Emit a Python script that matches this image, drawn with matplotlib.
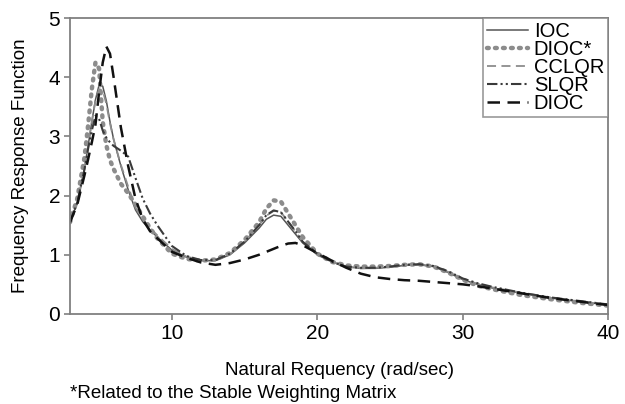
import matplotlib
matplotlib.use("Agg")
import matplotlib.pyplot as plt

plt.rcParams['font.family'] = ['Liberation Sans', 'DejaVu Sans']

x = [3, 3.5, 4, 4.25, 4.5, 4.75, 5, 5.25, 5.5, 5.75, 6, 6.5, 7, 7.5, 8, 8.5, 9, 10, 11, 12, 13,
     14, 15, 16, 16.5, 17, 17.5, 18, 18.5, 19, 20, 21, 22, 23, 24, 25, 26, 27, 28, 29, 30,
     31, 32, 34, 36, 38, 40]

ioc = [1.55, 1.88, 2.45, 2.85, 3.25, 3.62, 3.87, 3.85, 3.6, 3.25, 2.95, 2.5, 2.1, 1.76, 1.56, 1.42, 1.3,
       1.08, 0.96, 0.9, 0.9, 1.0, 1.2, 1.45, 1.6, 1.67, 1.65, 1.5, 1.35, 1.2, 1.0, 0.88, 0.8, 0.77,
       0.77, 0.79, 0.82, 0.83, 0.8, 0.7, 0.58, 0.5, 0.44, 0.35, 0.27, 0.21, 0.15]

dioc_star = [1.55, 1.95, 2.65, 3.2, 3.8, 4.25, 4.15, 3.25, 2.85, 2.6, 2.45, 2.2, 2.04, 1.85, 1.65, 1.45,
             1.28, 1.02, 0.93, 0.9, 0.92, 1.03, 1.25, 1.55, 1.78, 1.92, 1.9, 1.7, 1.5, 1.3, 1.02, 0.88,
             0.82, 0.8, 0.8, 0.81, 0.83, 0.84, 0.8, 0.7, 0.58, 0.48, 0.42, 0.32, 0.25, 0.19, 0.14]

cclqr = [1.55, 1.88, 2.45, 2.85, 3.25, 3.6, 3.8, 3.78, 3.55, 3.22, 2.95, 2.52, 2.15, 1.8, 1.6, 1.45, 1.33,
         1.1, 0.97, 0.91, 0.91, 1.01, 1.22, 1.5, 1.66, 1.74, 1.72, 1.56, 1.39, 1.22, 1.01, 0.88, 0.8,
         0.77, 0.78, 0.8, 0.83, 0.84, 0.81, 0.71, 0.59, 0.51, 0.45, 0.36, 0.28, 0.21, 0.15]

slqr = [1.55, 1.88, 2.45, 2.8, 3.1, 3.35, 3.3, 3.1, 2.98, 2.9, 2.84, 2.76, 2.66, 2.3, 1.95, 1.7, 1.5,
        1.15, 0.98, 0.91, 0.91, 1.02, 1.22, 1.5, 1.67, 1.75, 1.72, 1.56, 1.4, 1.22, 1.02, 0.88, 0.8,
        0.78, 0.78, 0.8, 0.83, 0.84, 0.81, 0.72, 0.6, 0.52, 0.46, 0.36, 0.28, 0.22, 0.16]

dioc = [1.55, 1.85, 2.35, 2.62, 2.9, 3.2, 3.75, 4.25, 4.52, 4.4, 4.0, 3.15, 2.5, 1.95, 1.6, 1.4, 1.28,
        1.05, 0.95, 0.87, 0.83, 0.86, 0.92, 1.0, 1.05, 1.1, 1.15, 1.19, 1.2, 1.16, 1.03, 0.9, 0.78,
        0.68, 0.62, 0.59, 0.57, 0.56, 0.54, 0.52, 0.5, 0.47, 0.43, 0.35, 0.27, 0.21, 0.15]

labels = ['IOC', 'DIOC*', 'CCLQR', 'SLQR', 'DIOC']
xticks = [10, 20, 30, 40]
yticks = [0, 1, 2, 3, 4, 5]

fig = plt.figure(figsize=(6.25, 4.04), dpi=100)
ax = fig.add_axes([0.112, 0.223, 0.861, 0.732])

ax.plot(x, ioc, color='#555555', lw=1.1, ls='-', label=labels[0])
ax.plot(x, dioc_star, color='#8c8c8c', lw=3.2, ls=(0, (0.4, 1.4)), dash_capstyle='round', label=labels[1])
ax.plot(x, cclqr, color='#8c8c8c', lw=1.3, ls=(0, (5, 3)), label=labels[2])
ax.plot(x, slqr, color='#3a3a3a', lw=1.5, ls=(0, (5, 1.5, 1, 1.5, 1, 1.5)), label=labels[3])
ax.plot(x, dioc, color='#111111', lw=1.8, ls=(0, (5, 3)), label=labels[4])

ax.set_xlim(3, 40)
ax.set_ylim(0, 5)
ax.set_xticks(xticks)
ax.set_yticks(yticks)
for s in ax.spines.values():
    s.set_color('#808080')
    s.set_linewidth(1.3)
ax.tick_params(colors='#808080', labelcolor='black', labelsize=15, length=4, width=1.2, pad=3)
ax.set_xlabel('Natural Requency (rad/sec)', fontsize=13.5, labelpad=14)
ax.set_ylabel('Frequency Response Function', fontsize=13.5, labelpad=14)

leg = ax.legend(loc='upper right', fontsize=14.5, frameon=True, fancybox=False,
                borderaxespad=0, labelspacing=-0.05, handlelength=2.0, handletextpad=0.3,
                borderpad=0.2, edgecolor='#808080')
leg.get_frame().set_linewidth(1.2)

fig.text(0.112, 0.027, '*Related to the Stable Weighting Matrix', fontsize=13.5, ha='left', va='center')

fig.savefig('out.png', dpi=100)
